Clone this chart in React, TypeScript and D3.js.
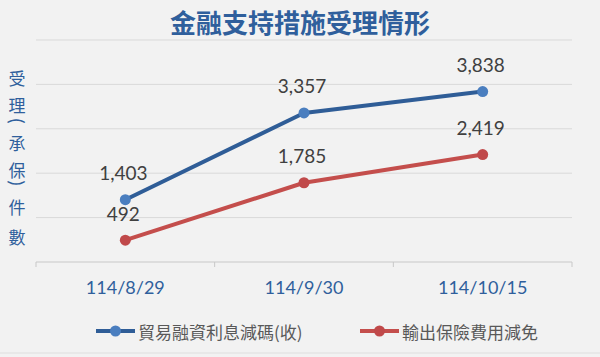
import React from "react";
import * as d3 from "d3";

const categories = ["114/8/29", "114/9/30", "114/10/15"];
const tradeFinance = [1403, 3357, 3838];
const exportInsurance = [492, 1785, 2419];
const seriesNames = ["貿易融資利息減碼(收)", "輸出保險費用減免"];
const yTicks = [0, 1000, 2000, 3000, 4000, 5000];
const title = "金融支持措施受理情形";
const yAxisChars = ["受", "理", "(", "承", "保", ")", "件", "數"];

const W = 600;
const H = 357;
const plot = { left: 36, right: 572, top: 40, bottom: 262 };

const BLUE_LINE = "#2f5d97";
const BLUE_DOT = "#4a7ebf";
const RED_LINE = "#c44e4c";
const RED_DOT = "#c0494a";
const TEXT_BLUE = "#2f5f9c";
const CJK = "'Noto Sans CJK TC', 'Noto Sans', sans-serif";
const NUM = "Lato, 'Noto Sans', sans-serif";

export default function App() {
  const x = d3.scaleBand<string>().domain(categories).range([plot.left, plot.right]);
  const y = d3.scaleLinear().domain([0, 5000]).range([plot.bottom, plot.top]);
  const cx = (c: string) => (x(c) as number) + x.bandwidth() / 2;

  const line = d3
    .line<number>()
    .x((_, i) => cx(categories[i]))
    .y((d) => y(d));

  const series = [
    { name: seriesNames[0], values: tradeFinance, stroke: BLUE_LINE, dot: BLUE_DOT },
    { name: seriesNames[1], values: exportInsurance, stroke: RED_LINE, dot: RED_DOT },
  ];

  const fmt = d3.format(",");

  // vertical y-axis title character centers
  const charY = [77, 104, 121, 142, 169, 183, 206, 236];

  const tickXs = [...categories.map((c) => x(c) as number), plot.right];

  const legendItems = [
    { x0: 96, textX: 138 },
    { x0: 360, textX: 402 },
  ];

  return (
    <svg
      width={W}
      height={H}
      style={{ position: "absolute", left: 0, top: 0, background: "#f2f2f2" }}
    >
      <rect x={0} y={0} width={W} height={H} fill="#f2f2f2" />
      <text
        x={300}
        y={21}
        textAnchor="middle"
        dominantBaseline="central"
        fontFamily={CJK}
        fontWeight={700}
        fontSize={26}
        fill={TEXT_BLUE}
      >
        {title}
      </text>

      {/* gridlines */}
      {yTicks.slice(1).map((t) => (
        <line
          key={t}
          x1={plot.left}
          x2={plot.right}
          y1={y(t)}
          y2={y(t)}
          stroke="#d9d9d9"
          strokeWidth={1}
        />
      ))}

      {/* x axis */}
      <line
        x1={plot.left}
        x2={plot.right}
        y1={y(0)}
        y2={y(0)}
        stroke="#c8c8c8"
        strokeWidth={1}
      />
      {tickXs.map((tx, i) => (
        <line
          key={i}
          x1={tx}
          x2={tx}
          y1={y(0)}
          y2={y(0) + 5}
          stroke="#c8c8c8"
          strokeWidth={1}
        />
      ))}
      {categories.map((c) => (
        <text
          key={c}
          x={cx(c)}
          y={287}
          textAnchor="middle"
          dominantBaseline="central"
          fontFamily={NUM}
          fontSize={18}
          fill={TEXT_BLUE}
        >
          {c}
        </text>
      ))}

      {/* y axis title */}
      {yAxisChars.map((ch, i) => {
        const isParen = ch === "(" || ch === ")";
        return (
          <text
            key={i}
            x={17}
            y={charY[i]}
            textAnchor="middle"
            dominantBaseline="central"
            fontFamily={isParen ? NUM : CJK}
            fontSize={isParen ? 19 : 17}
            fill={TEXT_BLUE}
            transform={isParen ? `rotate(90, 17, ${charY[i]})` : undefined}
          >
            {ch}
          </text>
        );
      })}

      {/* series */}
      {series.map((s) => (
        <g key={s.name}>
          <path d={line(s.values) || ""} fill="none" stroke={s.stroke} strokeWidth={4} strokeLinejoin="round" />
          {s.values.map((v, i) => (
            <circle key={i} cx={cx(categories[i])} cy={y(v)} r={5.5} fill={s.dot} />
          ))}
          {s.values.map((v, i) => (
            <text
              key={"l" + i}
              x={cx(categories[i]) - 2}
              y={y(v) - 27}
              textAnchor="middle"
              dominantBaseline="central"
              fontFamily={NUM}
              fontSize={19}
              fill="#404040"
            >
              {fmt(v)}
            </text>
          ))}
        </g>
      ))}

      {/* legend */}
      {series.map((s, i) => (
        <g key={"lg" + i}>
          <line
            x1={legendItems[i].x0}
            x2={legendItems[i].x0 + 39}
            y1={331}
            y2={331}
            stroke={s.stroke}
            strokeWidth={4}
          />
          <circle cx={legendItems[i].x0 + 19.5} cy={331} r={5.5} fill={s.dot} />
          <text
            x={legendItems[i].textX}
            y={331}
            dominantBaseline="central"
            fontFamily={CJK}
            fontSize={17}
            fill="#595959"
          >
            {s.name}
          </text>
        </g>
      ))}

      <line x1={0} x2={W} y1={353} y2={353} stroke="#dedede" strokeWidth={1} />
    </svg>
  );
}
